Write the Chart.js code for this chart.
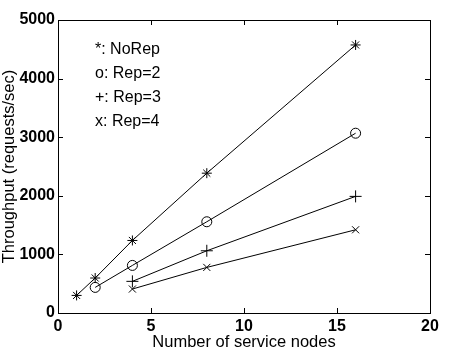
<!DOCTYPE html>
<html>
<head>
<meta charset="utf-8">
<script src="https://cdn.jsdelivr.net/npm/chart.js@4"></script>
<style>
  body { margin: 0; background: #fff; }
  #myChart { display: block; }
</style>
</head>
<body>
<canvas id="myChart" width="453" height="361"></canvas>
<script>
// Throughput vs number of service nodes
const noRepX = [1, 2, 4, 8, 16];
const noRepY = [300, 597, 1238, 2386, 4574];
const rep2X = [2, 4, 8, 16];
const rep2Y = [437, 812, 1557, 3068];
const rep3X = [4, 8, 16];
const rep3Y = [540, 1062, 1990];
const rep4X = [4, 8, 16];
const rep4Y = [409, 778, 1420];

const xTicks = [0, 5, 10, 15, 20];
const yTicks = [0, 1000, 2000, 3000, 4000, 5000];
const noteLines = ['*: NoRep', 'o: Rep=2', '+: Rep=3', 'x: Rep=4'];

function pts(xs, ys) {
    return xs.map((x, i) => ({ x: x, y: ys[i] }));
}

function series(label, xs, ys, style, radius) {
    return {
        label: label,
        data: pts(xs, ys),
        showLine: true,
        borderColor: '#000',
        borderWidth: 1,
        pointStyle: style,
        pointRadius: radius,
        pointBorderColor: '#000',
        pointBackgroundColor: 'rgba(0,0,0,0)',
        pointBorderWidth: 1
    };
}

// box around the plot, inward tick marks, and the text key
const boxPlugin = {
    id: 'box',
    afterDraw(chart) {
        const { ctx, chartArea: a, scales } = chart;
        ctx.save();
        ctx.strokeStyle = '#000';
        ctx.lineWidth = 1;
        ctx.strokeRect(Math.round(a.left) + 0.5, Math.round(a.top) + 0.5,
            Math.round(a.right - a.left), Math.round(a.bottom - a.top));
        ctx.beginPath();
        xTicks.forEach(v => {
            const px = Math.round(scales.x.getPixelForValue(v)) + 0.5;
            ctx.moveTo(px, a.bottom); ctx.lineTo(px, a.bottom - 5);
            ctx.moveTo(px, a.top); ctx.lineTo(px, a.top + 5);
        });
        yTicks.forEach(v => {
            const py = Math.round(scales.y.getPixelForValue(v)) + 0.5;
            ctx.moveTo(a.left, py); ctx.lineTo(a.left + 5, py);
            ctx.moveTo(a.right, py); ctx.lineTo(a.right - 5, py);
        });
        ctx.stroke();

        ctx.fillStyle = '#000';
        ctx.font = '16px "Liberation Sans", Arial, sans-serif';
        ctx.textBaseline = 'middle';
        noteLines.forEach((t, i) => {
            ctx.fillText(t, a.left + 37, a.top + 30 + i * 23.7);
        });
        ctx.restore();
    }
};

const tickFont = { family: '"Liberation Sans", Arial, sans-serif', size: 16, weight: 'bold' };
const titleFont = { family: '"Liberation Sans", Arial, sans-serif', size: 16.5 };

const ctx = document.getElementById('myChart').getContext('2d');
const myChart = new Chart(ctx, {
    type: 'scatter',
    data: {
        datasets: [
            series('NoRep', noRepX, noRepY, 'star', 5),
            series('Rep=2', rep2X, rep2Y, 'circle', 5),
            series('Rep=3', rep3X, rep3Y, 'cross', 6),
            series('Rep=4', rep4X, rep4Y, 'crossRot', 5)
        ]
    },
    options: {
        responsive: false,
        animation: false,
        layout: { padding: { left: 0, right: 23, top: 20, bottom: 0 } },
        plugins: { legend: { display: false }, tooltip: { enabled: false } },
        scales: {
            x: {
                type: 'linear',
                min: 0,
                max: 20,
                afterBuildTicks(axis) { axis.ticks = xTicks.map(v => ({ value: v })); },
                afterFit(axis) { axis.height = 48; },
                grid: { display: false, drawTicks: false },
                border: { display: false },
                ticks: { color: '#000', padding: 4, font: tickFont, callback: v => String(v) },
                title: {
                    display: true,
                    text: 'Number of service nodes',
                    color: '#000',
                    padding: { top: 0, bottom: 9 },
                    font: titleFont
                }
            },
            y: {
                type: 'linear',
                min: 0,
                max: 5000,
                afterBuildTicks(axis) { axis.ticks = yTicks.map(v => ({ value: v })); },
                afterFit(axis) { axis.width = 58; },
                grid: { display: false, drawTicks: false },
                border: { display: false },
                ticks: { color: '#000', padding: 3, font: tickFont, callback: v => String(v) },
                title: {
                    display: true,
                    text: 'Throughput (requests/sec)',
                    color: '#000',
                    padding: { top: 0, bottom: 0 },
                    font: titleFont
                }
            }
        }
    },
    plugins: [boxPlugin]
});
</script>
</body>
</html>
